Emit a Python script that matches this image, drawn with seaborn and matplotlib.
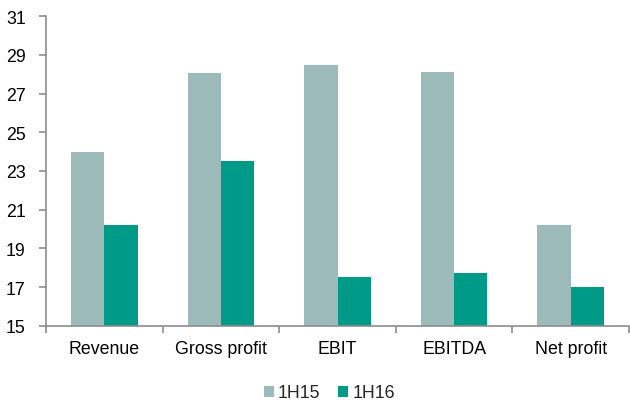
import matplotlib
matplotlib.use("Agg")
import matplotlib.pyplot as plt
import seaborn as sns
import pandas as pd
from matplotlib.patches import Patch
from matplotlib.ticker import FixedLocator

categories = ["Revenue", "Gross profit", "EBIT", "EBITDA", "Net profit"]
series_names = ["1H15", "1H16"]
values_1h15 = [24.0, 28.05, 28.5, 28.1, 20.2]
values_1h16 = [20.2, 23.5, 17.5, 17.7, 17.0]
y_ticks = [15, 17, 19, 21, 23, 25, 27, 29, 31]

colors = {"1H15": "#9BBAB8", "1H16": "#009A88"}

df = pd.DataFrame({
    "category": categories * 2,
    "period": [series_names[0]] * len(categories) + [series_names[1]] * len(categories),
    "value": values_1h15 + values_1h16,
})

sns.set_style("white")
plt.rcParams["font.family"] = ["Liberation Sans", "DejaVu Sans"]

FS = 12.8

fig = plt.figure(figsize=(6.3, 4.06), dpi=100)
ax = fig.add_axes([46 / 630, 1 - 326.7 / 406, 583 / 630, 309.4 / 406])

sns.barplot(data=df, x="category", y="value", hue="period", order=categories,
            hue_order=series_names, palette=colors, width=0.57, gap=0,
            saturation=1, ax=ax, legend=False, edgecolor="none", linewidth=0)

ax.set_ylim(15, 31)
ax.set_xlim(-0.5, len(categories) - 0.5)
ax.set_yticks(y_ticks)
ax.set_xlabel("")
ax.set_ylabel("")

for side in ["top", "right"]:
    ax.spines[side].set_visible(False)
for side in ["left", "bottom"]:
    ax.spines[side].set_color("#8C8C8C")
    ax.spines[side].set_linewidth(1.2)

ax.tick_params(axis="y", which="major", direction="out", length=5, width=1.2,
               color="#8C8C8C", labelsize=FS, labelcolor="black", pad=9.5, left=True)
# category labels without marks, separator marks between categories
ax.tick_params(axis="x", which="major", length=0, labelsize=FS, labelcolor="black", pad=10)
ax.xaxis.set_minor_locator(FixedLocator([i - 0.5 for i in range(len(categories) + 1)]))
ax.tick_params(axis="x", which="minor", direction="out", length=5, width=1.2,
               color="#8C8C8C", bottom=True)

handles = [Patch(facecolor=colors[s], edgecolor="none", label=s) for s in series_names]
fig.legend(handles=handles, loc="center", bbox_to_anchor=(329.5 / 630, 1 - 394 / 406),
           ncol=2, frameon=False, fontsize=FS, handlelength=0.55, handleheight=0.55,
           handletextpad=0.25, columnspacing=1.0)

fig.savefig("out.png", dpi=100)
